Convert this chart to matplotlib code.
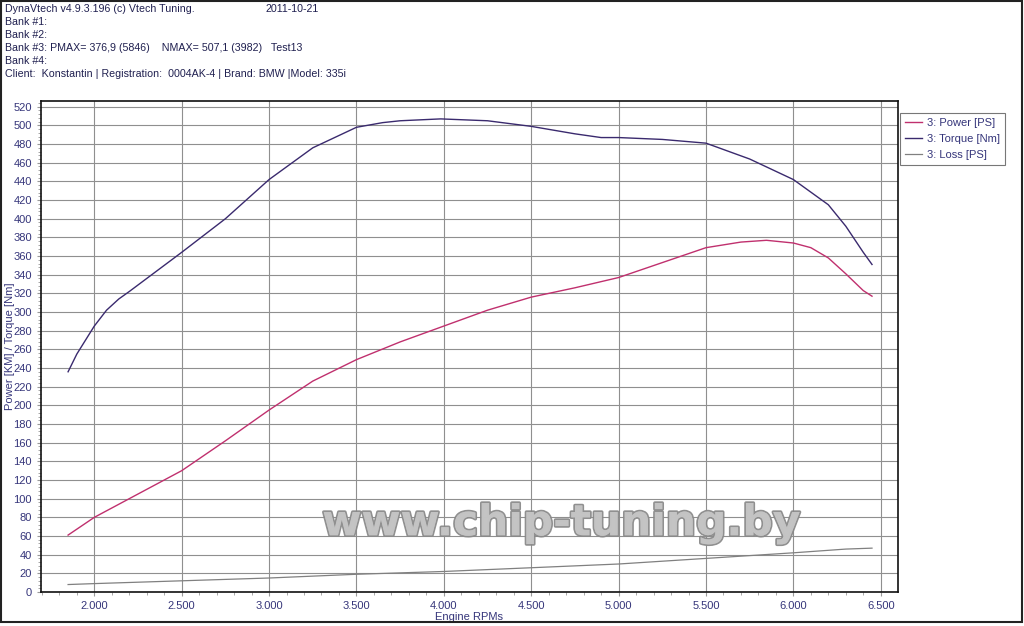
import matplotlib
matplotlib.use("Agg")
import matplotlib.pyplot as plt
import matplotlib.patheffects as pe
from matplotlib.ticker import MultipleLocator, FuncFormatter
from matplotlib.patches import Rectangle

plt.rcParams['font.family'] = ['Liberation Sans', 'DejaVu Sans']

# --- data ---
torque_rpm = [1850, 1900, 2000, 2070, 2140, 2200, 2300, 2500, 2750, 3000, 3250, 3500, 3650, 3750,
              3982, 4250, 4500, 4750, 4900, 5000, 5250, 5500, 5750, 6000, 6200, 6300, 6400, 6450]
torque_nm = [236, 255, 285, 302, 314, 322, 336, 364, 400, 442, 476, 498, 503, 505,
             507, 505, 499, 491, 487, 487, 485, 481, 464, 442, 415, 392, 364, 351]

power_rpm = [1850, 2000, 2200, 2500, 2750, 3000, 3250, 3500, 3750, 4000, 4250, 4500,
             4750, 5000, 5250, 5500, 5700, 5846, 6000, 6100, 6200, 6300, 6400, 6450]
power_ps = [61, 80, 100, 130, 162, 195, 226, 249, 268, 285, 302, 316,
            326, 337, 353, 369, 375, 376.9, 374, 369, 358, 341, 323, 317]

loss_rpm = [1850, 2000, 2500, 3000, 3500, 4000, 4500, 5000, 5500, 6000, 6300, 6450]
loss_ps = [8, 9, 12, 15, 19, 22, 26, 30, 36, 42, 46, 47]

header_lines = [
    "DynaVtech v4.9.3.196 (c) Vtech Tuning.",
    "Bank #1:",
    "Bank #2:",
    "Bank #3: PMAX= 376,9 (5846)    NMAX= 507,1 (3982)   Test13",
    "Bank #4:",
    "Client:  Konstantin | Registration:  0004AK-4 | Brand: BMW |Model: 335i",
]
date_text = "2011-10-21"
legend_labels = ["3: Power [PS]", "3: Torque [Nm]", "3: Loss [PS]"]

navy = "#35357a"

fig = plt.figure(figsize=(10.24, 6.26), dpi=100)
fig.patch.set_facecolor("white")
fig.patches.append(Rectangle((0.001, 0.006), 0.997, 0.993, transform=fig.transFigure,
                             fill=False, edgecolor="#222222", linewidth=1.5))

ax = fig.add_axes([41/1024, 1 - 592/626, (897.7-41)/1024, (592-100.7)/626])

ax.plot(power_rpm, power_ps, color="#c0306e", lw=1.0, label=legend_labels[0], zorder=3)
ax.plot(torque_rpm, torque_nm, color="#3a2a6e", lw=1.0, label=legend_labels[1], zorder=3)
ax.plot(loss_rpm, loss_ps, color="#808080", lw=0.9, label=legend_labels[2], zorder=3)

ax.set_xlim(1695, 6597)
ax.set_ylim(0, 526.5)
ax.xaxis.set_major_locator(MultipleLocator(500))
ax.xaxis.set_minor_locator(MultipleLocator(100))
ax.yaxis.set_major_locator(MultipleLocator(20))
ax.yaxis.set_minor_locator(MultipleLocator(4))
ax.xaxis.set_major_formatter(FuncFormatter(lambda v, p: f"{int(v)//1000}.{int(v)%1000:03d}"))
ax.grid(True, which="major", color="#8f8f8f", lw=0.8)
ax.tick_params(which="both", direction="out", colors="#999999", labelcolor=navy, labelsize=8)
ax.tick_params(which="major", length=3)
ax.tick_params(which="minor", length=2)
for s in ax.spines.values():
    s.set_color("#111111")
    s.set_linewidth(1.2)
ax.set_xlabel("Engine RPMs", color=navy, fontsize=8, labelpad=1)
ax.set_ylabel("Power [KM] / Torque [Nm]", color=navy, fontsize=8)
ax.yaxis.set_label_coords(-0.0305, 0.5)

leg = ax.legend(loc="upper left", bbox_to_anchor=(1.0025, 0.975), fontsize=8,
                frameon=True, fancybox=False, edgecolor="#555555", handlelength=1.5,
                borderpad=0.45, labelspacing=0.55, handletextpad=0.5, borderaxespad=0)
for t in leg.get_texts():
    t.set_color(navy)
leg.get_frame().set_linewidth(0.8)

wm = ax.text(0.607, 0.14, "www.chip-tuning.by", transform=ax.transAxes,
             ha="center", va="center", fontsize=30.5, fontweight="bold",
             family="DejaVu Sans", color="#c4c4c4", zorder=4, alpha=0.95)
wm.set_path_effects([pe.withStroke(linewidth=2.5, foreground="#8a8a8a"), pe.Normal()])

for i, line in enumerate(header_lines):
    fig.text(5/1024, 1 - (9 + 13*i)/626, line, fontsize=7.65, color="#202050",
             va="center", ha="left")
fig.text(265/1024, 1 - 9/626, date_text, fontsize=7.65, color="#202050", va="center", ha="left")

fig.savefig("out.png", dpi=100)
